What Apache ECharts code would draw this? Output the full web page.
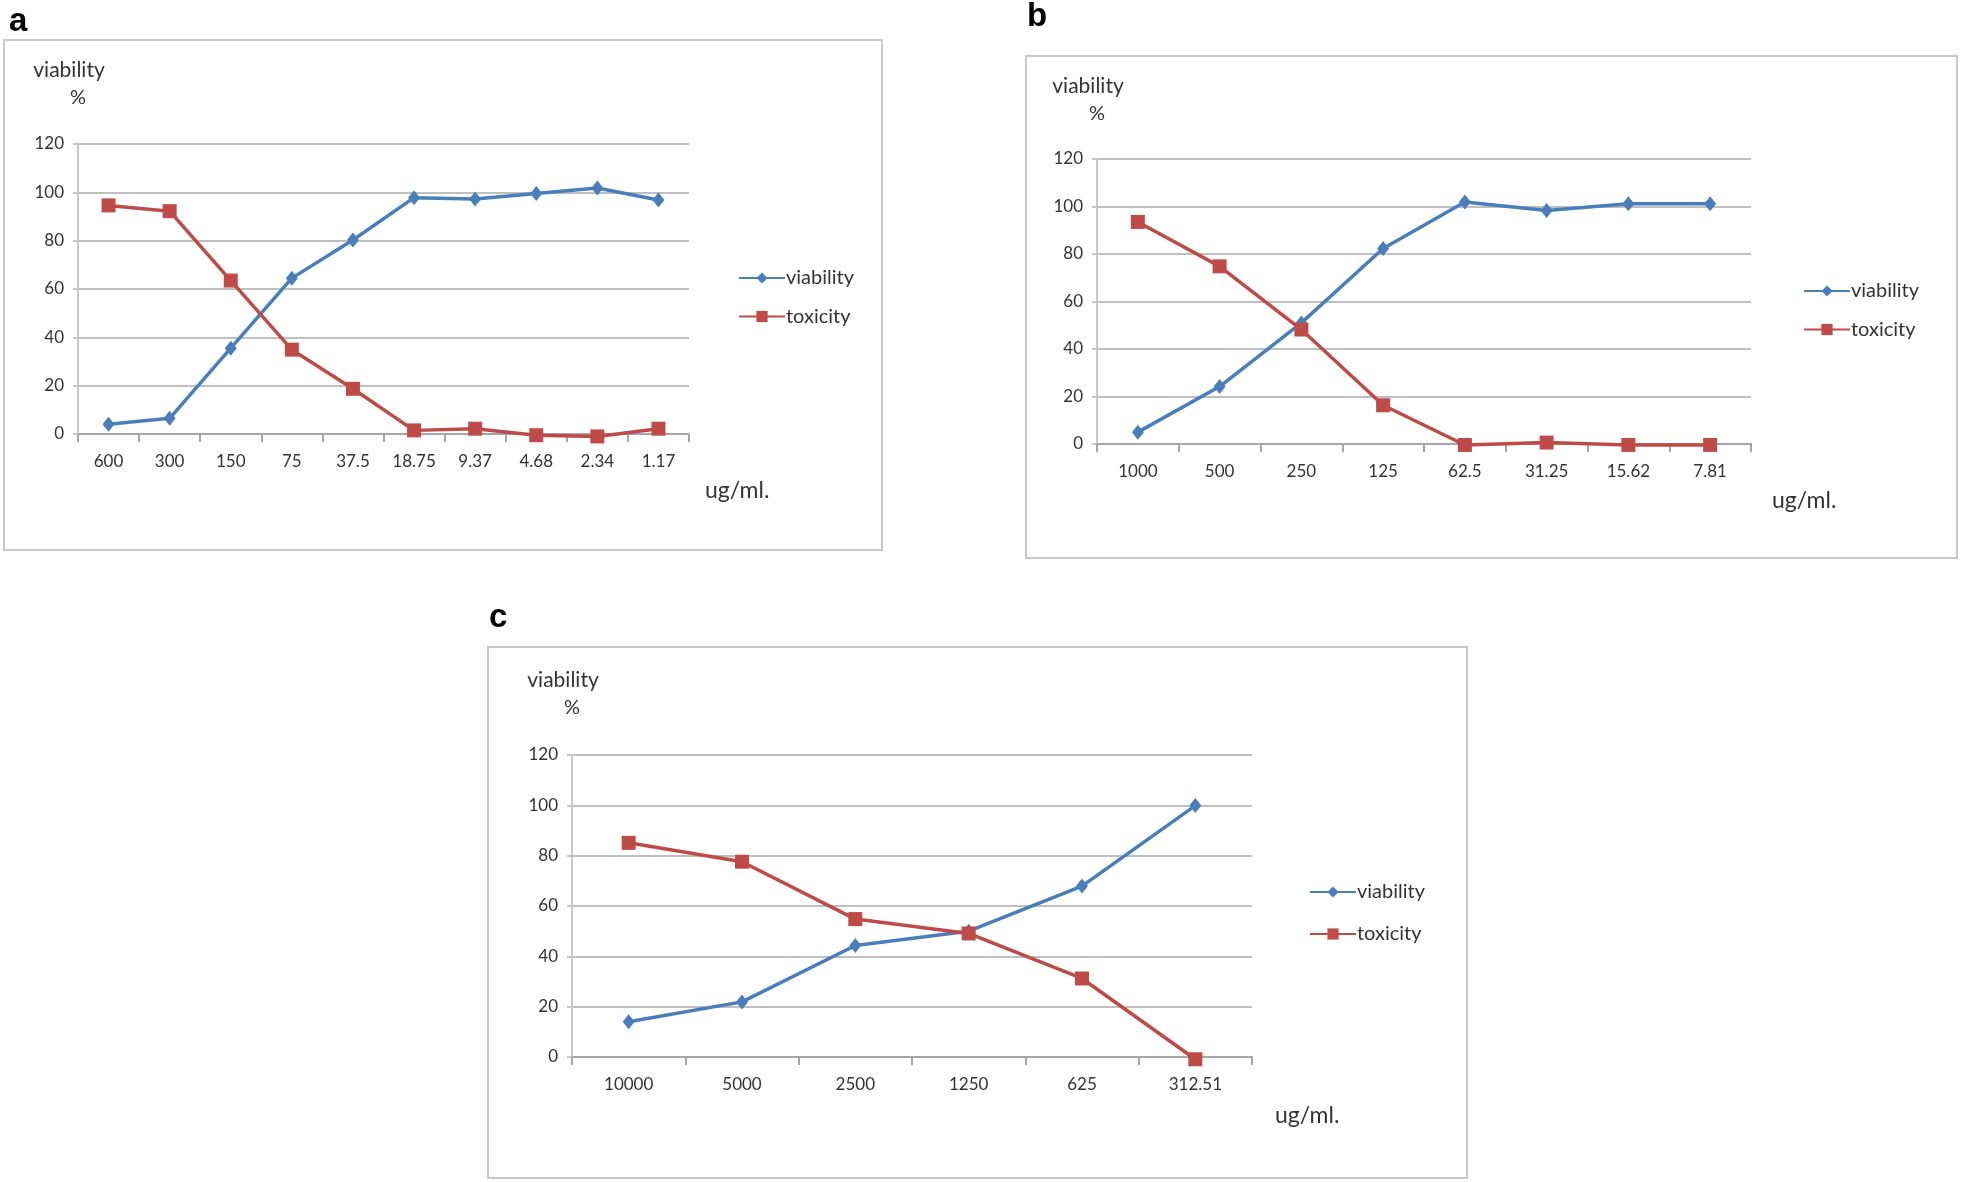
<!DOCTYPE html>
<html>
<head>
<meta charset="utf-8">
<script src="https://cdn.jsdelivr.net/npm/echarts@6/dist/echarts.min.js"></script>
<style>
html,body{margin:0;padding:0;background:#fff;}
#chart{width:1961px;height:1182px;}
</style>
</head>
<body>
<div id="chart"></div>
<script>
// ---- Data ----
const catsA = ['600','300','150','75','37.5','18.75','9.37','4.68','2.34','1.17'];
const viabilityA = [4, 6.5, 35.5, 64.5, 80.3, 97.8, 97.2, 99.5, 101.8, 96.8];
const toxicityA = [94.6, 92.2, 63.5, 34.9, 18.7, 1.5, 2.2, -0.5, -1, 2.2];

const catsB = ['1000','500','250','125','62.5','31.25','15.62','7.81'];
const viabilityB = [5, 24.2, 51, 82.3, 101.9, 98.3, 101.2, 101.2];
const toxicityB = [93.5, 74.8, 48.2, 16.3, -0.4, 0.6, -0.4, -0.4];

const catsC = ['10000','5000','2500','1250','625','312.51'];
const viabilityC = [14, 21.9, 44.3, 50, 67.9, 99.9];
const toxicityC = [85.1, 77.6, 54.8, 49.1, 31.2, -0.9];

const unitLabel = 'ug/ml.';

// ---- Style ----
const FONT = 'Lato, "Open Sans", sans-serif';
const TXT = '#333333';
const BLUE = '#4A7EBB';
const RED = '#BE4B48';
const GRID = '#BFBFBF';

const panels = [
  {grid:{left:78, top:144, width:611, height:290}, cats:catsA, v:viabilityA, t:toxicityA,
   legend:{left:738, top:268, itemGap:18.5}, nameGapY:33, unit:{x:705, y:492}},
  {grid:{left:1097, top:159, width:654, height:285}, cats:catsB, v:viabilityB, t:toxicityB,
   legend:{left:1803, top:281, itemGap:18.5}, nameGapY:32, unit:{x:1772, y:502}},
  {grid:{left:572, top:755, width:680, height:302}, cats:catsC, v:viabilityC, t:toxicityC,
   legend:{left:1309, top:882, itemGap:22}, nameGapY:34, unit:{x:1275, y:1117}}
];

const option = {
  backgroundColor: '#ffffff',
  animation: false,
  textStyle: {fontFamily: FONT, color: TXT},
  grid: [], xAxis: [], yAxis: [], series: [], legend: [],
  graphic: [
    {type:'rect', shape:{x:4, y:40, width:878, height:510}, style:{fill:'none', stroke:'#C8C8C8', lineWidth:2}},
    {type:'rect', shape:{x:1026, y:56, width:931, height:502}, style:{fill:'none', stroke:'#C8C8C8', lineWidth:2}},
    {type:'rect', shape:{x:488, y:647, width:979, height:531}, style:{fill:'none', stroke:'#C8C8C8', lineWidth:2}},
    {type:'text', left:9, top:5, style:{text:'a', font:'bold 33px "Liberation Sans", Arial, sans-serif', fill:'#000'}},
    {type:'text', left:1027, top:0, style:{text:'b', font:'bold 33px "Liberation Sans", Arial, sans-serif', fill:'#000'}},
    {type:'text', left:489, top:601, style:{text:'c', font:'bold 33px "Liberation Sans", Arial, sans-serif', fill:'#000'}}
  ]
};

panels.forEach((p, i) => {
  option.grid.push(Object.assign({containLabel:false}, p.grid));
  option.xAxis.push({
    type:'category', gridIndex:i, data:p.cats, boundaryGap:true,
    axisLine:{lineStyle:{color:'#A6A6A6', width:2}},
    axisTick:{show:true, alignWithLabel:false, length:8, lineStyle:{color:'#A6A6A6', width:2}},
    axisLabel:{fontSize:17, color:TXT, margin:19, fontFamily:FONT},
    splitLine:{show:false}
  });
  option.yAxis.push({
    type:'value', gridIndex:i, min:0, max:120, interval:20,
    axisLine:{show:true, lineStyle:{color:'#C8C8C8', width:2}},
    axisTick:{show:true, length:5, lineStyle:{color:'#C8C8C8', width:2}},
    axisLabel:{fontSize:17, color:TXT, margin:14, fontFamily:FONT},
    splitLine:{show:true, lineStyle:{color:GRID, width:2}},
    name:'{a|viability}\n{b|%}', nameLocation:'end', nameGap:p.nameGapY,
    nameTextStyle:{align:'center', fontFamily:FONT,
      rich:{a:{fontSize:21, color:TXT, lineHeight:27, padding:[0,18,0,0], fontFamily:FONT},
            b:{fontSize:20, color:TXT, lineHeight:27, fontFamily:FONT}}}
  });
  option.series.push({
    name:'viability', type:'line', xAxisIndex:i, yAxisIndex:i, data:p.v, clip:false,
    symbol:'diamond', symbolSize:[12,15], showSymbol:true,
    lineStyle:{color:BLUE, width:3.5}, itemStyle:{color:BLUE, borderWidth:0}
  });
  option.series.push({
    name:'toxicity', type:'line', xAxisIndex:i, yAxisIndex:i, data:p.t, clip:false,
    symbol:'rect', symbolSize:14, showSymbol:true,
    lineStyle:{color:RED, width:3.5}, itemStyle:{color:RED, borderWidth:0}
  });
  option.legend.push(Object.assign({
    orient:'vertical', data:['viability','toxicity'], padding:0,
    itemWidth:46, itemHeight:14,
    textStyle:{fontSize:20, lineHeight:14, color:TXT, fontFamily:FONT, padding:[0,0,0,-4]},
    selectedMode:false
  }, p.legend));
  option.graphic.push({
    type:'text', left:p.unit.x, top:p.unit.y - 13,
    style:{text:unitLabel, font:'23px ' + FONT, fill:TXT}
  });
});

const chart = echarts.init(document.getElementById('chart'), null, {renderer:'canvas'});
chart.setOption(option);
</script>
</body>
</html>
